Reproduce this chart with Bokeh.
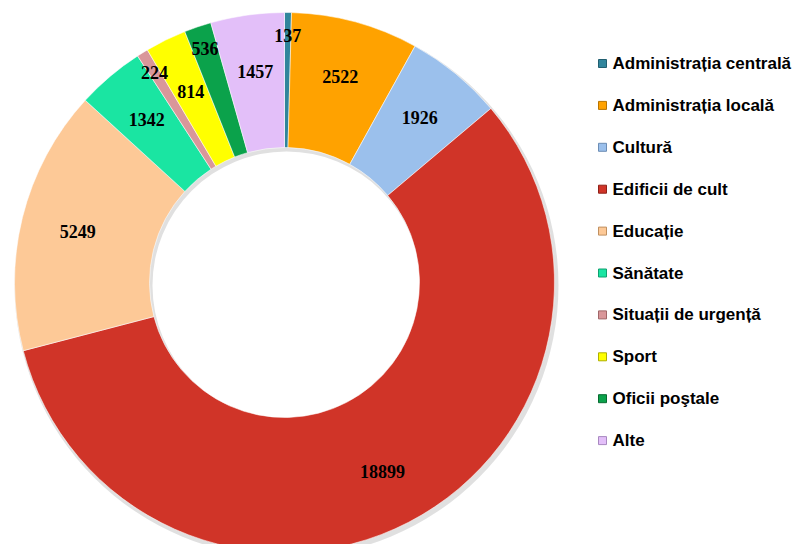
import math
from bokeh.plotting import figure
from bokeh.models import Range1d, ColumnDataSource
from bokeh.core.properties import value
from bokeh.embed import file_html
from bokeh.resources import INLINE

categories = ["Administrația centrală", "Administrația locală", " Cultură", "Edificii de cult",
              "Educație", "Sănătate", "Situații de urgență", "Sport", "Oficii poştale", "Alte"]
values = [137, 2522, 1926, 18899, 5249, 1342, 224, 814, 536, 1457]
colors = ["#31859C", "#FFA200", "#9BC0EC", "#D03428", "#FDC997",
          "#1AE5A2", "#D9979A", "#FFFF00", "#0BA24B", "#E3BFF9"]
marker_borders = ["#215E70", "#B87400", "#6C8DB5", "#8E2018", "#C09060",
                  "#10A070", "#A06668", "#B0B000", "#076A30", "#A888C0"]

W, H = 797, 544
cx, cy = 284, -282
r_out, r_in = 270, 135

total = sum(values)
starts, ends, mids = [], [], []
acc = 0
for v in values:
    a0 = math.pi / 2 - acc / total * 2 * math.pi
    acc += v
    a1 = math.pi / 2 - acc / total * 2 * math.pi
    starts.append(a0)
    ends.append(a1)
    mids.append((a0 + a1) / 2)

lab_r = [247 if v / total < 0.02 else 213 for v in values]
lab_x = [cx + r * math.cos(m) for r, m in zip(lab_r, mids)]
lab_y = [cy + r * math.sin(m) for r, m in zip(lab_r, mids)]

p = figure(width=W, height=H, output_backend="svg", toolbar_location=None,
           x_range=Range1d(0, W), y_range=Range1d(-H, 0),
           min_border=0, outline_line_color=None)
p.axis.visible = False
p.grid.visible = False
p.background_fill_color = "white"

# soft shadow
p.annulus(x=[cx + 2], y=[cy - 3], inner_radius=r_in - 1, outer_radius=r_out + 2,
          fill_color="#000000", fill_alpha=0.12, line_color=None)

src = ColumnDataSource(dict(start=starts, end=ends, color=colors))
p.annular_wedge(x=cx, y=cy, inner_radius=r_in, outer_radius=r_out,
                start_angle="start", end_angle="end", direction="clock",
                fill_color="color", line_color="white", line_alpha=0.55, line_width=1,
                source=src)

p.text(x=lab_x, y=lab_y, text=[str(v) for v in values],
       text_font=value("Liberation Serif"), text_font_style="bold",
       text_font_size="18px", text_color="black",
       text_align="center", text_baseline="middle")

# legend
leg_y = [-(63 + 41.9 * i) for i in range(len(categories))]
p.scatter(x=[602] * len(categories), y=leg_y, marker="square", size=8,
          fill_color=colors, line_color=marker_borders, line_width=1)
p.text(x=[612] * len(categories), y=leg_y, text=categories,
       text_font=value("Liberation Sans"), text_font_style="bold",
       text_font_size="17px", text_color="black",
       text_align="left", text_baseline="middle")

open("out.html", "w").write(file_html(p, INLINE))
